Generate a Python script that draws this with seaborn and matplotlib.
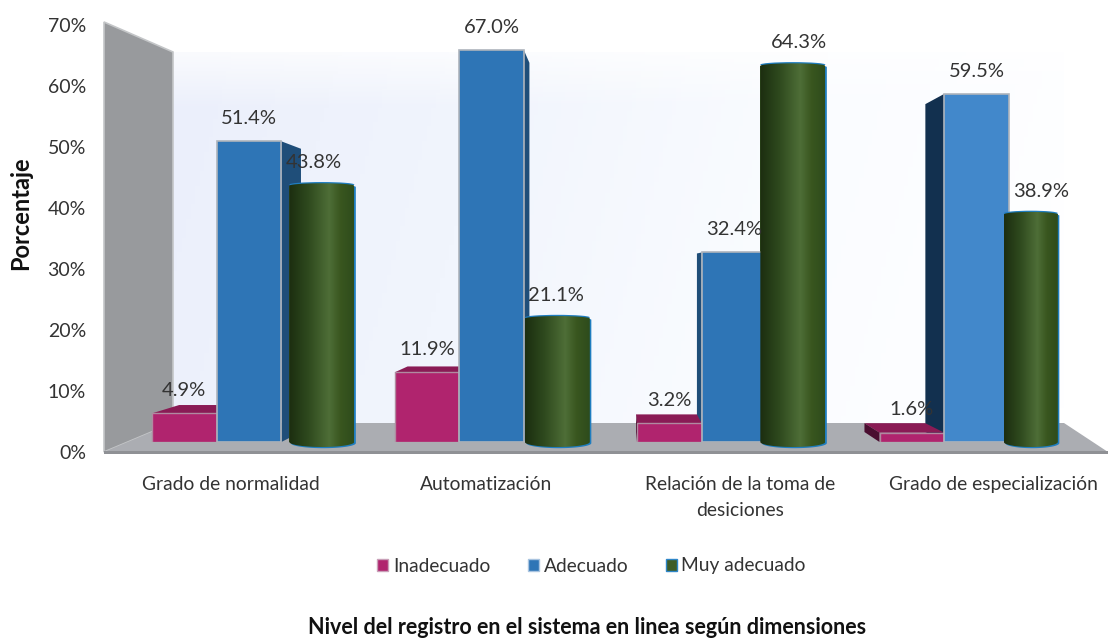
import numpy as np
import pandas as pd
import matplotlib
matplotlib.use("Agg")
import matplotlib.pyplot as plt
import seaborn as sns
from matplotlib.colors import LinearSegmentedColormap
from matplotlib.patches import Ellipse, PathPatch, Polygon
from matplotlib.path import Path

# values
categories = ["Grado de normalidad", "Automatización",
              "Relación de la toma de\ndesiciones", "Grado de especialización"]
niveles = ["Inadecuado", "Adecuado", "Muy adecuado"]
inadecuado = [4.9, 11.9, 3.2, 1.6]
adecuado = [51.4, 67.0, 32.4, 59.5]
muy_adecuado = [43.8, 21.1, 64.3, 38.9]
y_ticks = [0, 10, 20, 30, 40, 50, 60, 70]

# category labels and cylinders do not sit on the nominal slots in the original
label_shift = [-0.074, -0.023, 0.025, 0.068]
green_shift = [8, 1, -6, -5]
green_width = [65, 65, 65, 54]

W, H = 1108, 641
PX_X0, PX_STEP = 249, 242.5   # pixel of first group and group spacing
PX_BASE, PX_UNIT = 442, 5.85  # pixel of 0 on the bars and pixels per %
VP = np.array([620.0, 270.0])  # vanishing point for the fake 3D
DEPTH = 0.058

sns.set_theme(style="white")
plt.rcParams["font.family"] = ["Lato", "DejaVu Sans"]
TXT = "#333333"

df = pd.DataFrame({
    "dim": categories * 3,
    "nivel": np.repeat(niveles, 4),
    "pct": inadecuado + adecuado + muy_adecuado,
})
palette = dict(zip(niveles, ["#B0246E", "#2E75B6", "#3D5C27"]))

fig = plt.figure(figsize=(W / 100, H / 100), dpi=100)

# pixel axes for the walls and floor
bg = fig.add_axes([0, 0, 1, 1], zorder=0)
bg.set_xlim(0, W)
bg.set_ylim(H, 0)
bg.axis("off")

wall = LinearSegmentedColormap.from_list("wall", ["#EBEFFB", "#F1F5FD", "#FAFCFF", "#FFFFFF"])
gx, gy = np.meshgrid(np.linspace(0, 1, 200), np.linspace(0, 1, 100))
bg.imshow(gx * 0.9 + (1 - gy) * 0.1, extent=(173, 1064, 423, 52), aspect="auto",
          origin="lower", cmap=wall, vmin=0, vmax=1, zorder=1)
fade = np.ones((40, 2, 4))
fade[:, :, 3] = np.linspace(0.75, 0, 40).reshape(-1, 1)
bg.imshow(fade, extent=(173, 1064, 110, 52), aspect="auto", zorder=1.5)
bg.add_patch(Polygon([(104, 22), (173, 52), (173, 423), (104, 452)],
                     fc="#989A9D", ec="#C4C6C8", lw=1.2, zorder=2))
bg.add_patch(Polygon([(104, 452), (173, 423), (1064, 423), (1108, 452)],
                     fc="#ABADB2", ec="none", zorder=2))
bg.add_patch(Polygon([(104, 451), (1108, 451), (1108, 454), (104, 454)],
                     fc="#8F9195", ec="none", zorder=2))
bg.set_xlim(0, W)
bg.set_ylim(H, 0)

# bars
ax = fig.add_axes([104 / W, 1 - PX_BASE / H, (1100 - 104) / W, (PX_BASE - 25) / H], zorder=1)
ax.patch.set_visible(False)
sns.barplot(data=df, x="dim", y="pct", hue="nivel", order=categories, hue_order=niveles,
            palette=palette, width=0.8, gap=0, saturation=1, errorbar=None, ax=ax)
ax.set_xlim((104 - PX_X0) / PX_STEP, (1100 - PX_X0) / PX_STEP)
ax.set_ylim(0, (PX_BASE - 25) / PX_UNIT)
sns.despine(ax=ax, left=True, bottom=True)
ax.set_yticks([])
ax.set_ylabel("")
ax.set_xlabel("")
ax.set_xticks(np.arange(4) + np.array(label_shift), categories, fontsize=13.9, color=TXT)
ax.tick_params(axis="x", length=0, pad=24.5)
for lab in ax.get_xticklabels():
    lab.set_linespacing(1.65)
    lab.set_verticalalignment("top")


def to_px(x, v):
    return bg.transData.inverted().transform(ax.transData.transform((x, v)))


def back(p):
    return p + (VP - p) * DEPTH


def add_faces(bar, side_col, top_col, z):
    x0, x1 = bar.get_x(), bar.get_x() + bar.get_width()
    h = bar.get_height()
    tl, tr, bl, br = to_px(x0, h), to_px(x1, h), to_px(x0, 0), to_px(x1, 0)
    kw = dict(transform=bg.transData, clip_on=False, ec="none", zorder=z)
    if tl[1] > VP[1]:
        ax.add_patch(Polygon([tl, tr, back(tr), back(tl)], fc=top_col, **kw))
    if tr[0] < VP[0]:
        ax.add_patch(Polygon([tr, br, back(br), back(tr)], fc=side_col, **kw))
    elif tl[0] > VP[0]:
        ax.add_patch(Polygon([tl, bl, back(bl), back(tl)], fc=side_col, **kw))


mag_bars, blue_bars, green_bars = ax.containers[:3]

for bars in (mag_bars, blue_bars, green_bars):
    for bar in bars:
        h = bar.get_height()
        ax.annotate(f"{h:.1f}%", (bar.get_x() + bar.get_width() / 2, h), xytext=(0, 16.5),
                    textcoords="offset points", ha="center", va="center",
                    fontsize=14.5, color=TXT, zorder=8, annotation_clip=False)

for i, bar in enumerate(blue_bars):
    bar.set(edgecolor="#AEB4BC", linewidth=1.2, zorder=4)
    if i == 3:
        bar.set_facecolor("#4288CB")
    add_faces(bar, "#12304F" if i == 3 else "#1F4E79", "#1F4E79", 2)

for bar in mag_bars:
    bar.set(edgecolor="#B08AA0", linewidth=1.0, zorder=4)
    add_faces(bar, "#4A0E30", "#8A1B55", 3)

green_map = LinearSegmentedColormap.from_list(
    "cyl", [(0, "#1C2E10"), (0.3, "#2F4A1E"), (0.62, "#4E6E37"), (0.8, "#39561F"), (1, "#2E4C1C")])
for i, bar in enumerate(green_bars):
    w = green_width[i] / PX_STEP
    x0 = bar.get_x() + green_shift[i] / PX_STEP
    h = bar.get_height()
    bar.set(x=x0, width=w, edgecolor="none", zorder=3)
    dip = 5 / PX_UNIT
    cap = 2.5 / PX_UNIT
    t = np.linspace(np.pi, 2 * np.pi, 30)
    xc = x0 + w / 2
    bottom = list(zip(xc + w / 2 * np.cos(t), dip * np.sin(t)))
    top = list(zip(xc - w / 2 * np.cos(t), h - cap * np.sin(t)))
    verts = np.array(bottom + top + [bottom[0]])
    # blue rim peeks out on the right, below and above
    rim = verts.copy()
    rim[:, 0] += 1.5 / PX_STEP
    rim[:, 1] -= 1.2 / PX_UNIT
    ax.add_patch(PathPatch(Path(rim), fc="#1F7DBF", ec="none", zorder=5, clip_on=False))
    ax.add_patch(Ellipse((xc, h + cap * 0.5), w, 2 * cap, fc="#1F7DBF", ec="none",
                         zorder=5, clip_on=False))
    shape = PathPatch(Path(verts), fc="none", ec="none", zorder=5, clip_on=False)
    ax.add_patch(shape)
    img = ax.imshow(np.linspace(0, 1, 100).reshape(1, -1), cmap=green_map, aspect="auto",
                    extent=(x0, x0 + w, -dip, h + cap), zorder=5.1)
    img.set_clip_box(fig.bbox)
    img.set_clip_path(shape)
ax.set_xlim((104 - PX_X0) / PX_STEP, (1100 - PX_X0) / PX_STEP)
ax.set_ylim(0, (PX_BASE - 25) / PX_UNIT)

# legend
handles, labels = ax.get_legend_handles_labels()
ax.get_legend().remove()
for hd, ec in zip(handles, ["#C9A0B8", "#A9C4E0", "#2E86C8"]):
    hd.set_edgecolor(ec)
    hd.set_linewidth(1)
fig.legend(handles, labels, ncol=3, loc="center", bbox_to_anchor=(591.5 / W, 1 - 566 / H),
           frameon=False, fontsize=13.8, labelcolor=TXT, handlelength=0.57, handleheight=0.57,
           handletextpad=0.26, columnspacing=1.95)

# percent axis of the back wall, has its own scale
yax = fig.add_axes([104 / W, 1 - 452 / H, 20 / W, (452 - 25) / H], zorder=2)
yax.patch.set_visible(False)
yax.set_ylim(0, 70)
yax.set_xticks([])
yax.set_yticks(y_ticks, [f"{v}%" for v in y_ticks], fontsize=14, color=TXT)
yax.tick_params(axis="y", length=0, pad=13)
sns.despine(ax=yax, left=True, bottom=True)

fig.text(21 / W, 1 - 213 / H, "Porcentaje", rotation=90, ha="center", va="center",
         fontsize=17, fontweight="bold", color="#111111")
fig.text(587 / W, 1 - 628 / H, "Nivel del registro en el sistema en linea según dimensiones",
         ha="center", va="center", fontsize=15.5, fontweight="bold", color="#111111")

fig.savefig("out.png", dpi=100)
